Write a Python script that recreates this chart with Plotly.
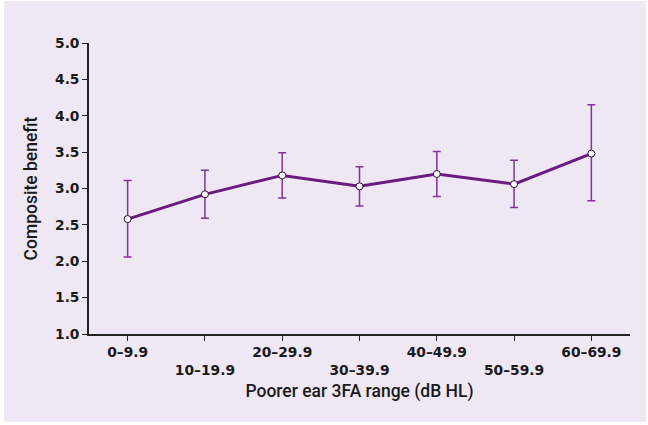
import plotly.graph_objects as go

# Hearing-loss bands (poorer ear, 3-frequency average)
bands = ["0–9.9", "10–19.9", "20–29.9", "30–39.9", "40–49.9", "50–59.9", "60–69.9"]
# Mean composite benefit per band
mean_benefit = [2.58, 2.92, 3.18, 3.03, 3.20, 3.06, 3.48]
# Upper and lower ends of the error bars
upper = [3.11, 3.25, 3.49, 3.30, 3.51, 3.39, 4.15]
lower = [2.06, 2.59, 2.87, 2.76, 2.89, 2.74, 2.83]

y_ticks = [1.0, 1.5, 2.0, 2.5, 3.0, 3.5, 4.0, 4.5, 5.0]

x_pos = list(range(len(bands)))
err_plus = [u - m for u, m in zip(upper, mean_benefit)]
err_minus = [m - l for m, l in zip(mean_benefit, lower)]
# alternate labels between two rows so they don't collide
tick_text = [b if i % 2 == 0 else "<br>" + b for i, b in enumerate(bands)]

LAV = "#EFE7F4"
LINE = "#6A1B80"
ERR = "#7E3598"
TICK_FONT = dict(size=13.8, family="DejaVu Sans", color="#1a1a1a", weight="bold")
TITLE_FONT = dict(size=17.5, family="Roboto, Liberation Sans, sans-serif",
                  color="#1a1a1a", weight=500)

fig = go.Figure()
fig.add_trace(go.Scatter(
    x=x_pos, y=mean_benefit,
    mode="lines+markers",
    line=dict(color=LINE, width=3),
    marker=dict(symbol="circle", size=7, color="white",
                line=dict(color="#2b1030", width=1)),
    error_y=dict(type="data", symmetric=False, array=err_plus, arrayminus=err_minus,
                 color=ERR, thickness=1.5, width=4),
    showlegend=False,
))

fig.update_layout(
    width=648, height=425,
    margin=dict(l=89, r=18, t=43, b=91),
    paper_bgcolor="white",
    plot_bgcolor=LAV,
    font=dict(family="DejaVu Sans", color="#1a1a1a"),
    shapes=[dict(type="rect", xref="paper", yref="paper", layer="below",
                 x0=-0.157, x1=1.03, y0=-0.302, y1=1.144,
                 fillcolor=LAV, line=dict(width=0))],
    xaxis=dict(
        range=[-0.5, 6.5],
        tickmode="array", tickvals=x_pos, ticktext=tick_text,
        ticks="outside", ticklen=5, tickwidth=1.2, tickcolor="#222",
        showline=True, linecolor="#222", linewidth=1.5,
        showgrid=False, zeroline=False,
        tickfont=TICK_FONT,
        title=dict(text="Poorer ear 3FA range (dB HL)", standoff=7, font=TITLE_FONT),
    ),
    yaxis=dict(
        range=[1, 5],
        tickmode="array", tickvals=y_ticks,
        ticktext=[f"{v:.1f}" for v in y_ticks],
        ticks="outside", ticklen=5, tickwidth=1.2, tickcolor="#222",
        showline=True, linecolor="#222", linewidth=1.5,
        showgrid=False, zeroline=False,
        tickfont=TICK_FONT,
        title=dict(text="Composite benefit", standoff=13, font=TITLE_FONT),
    ),
)

fig.write_html("out.html")
